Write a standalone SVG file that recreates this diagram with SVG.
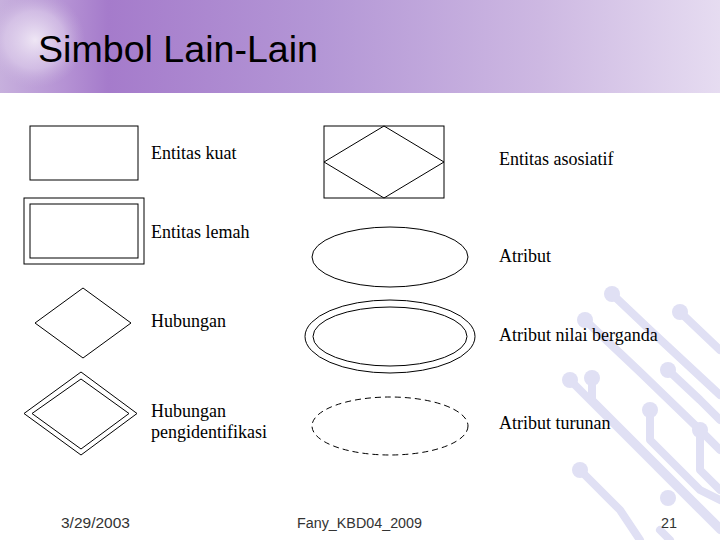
<svg xmlns="http://www.w3.org/2000/svg" width="720" height="540" viewBox="0 0 720 540">
<defs>
<linearGradient id="hdr" x1="0" y1="0" x2="1" y2="0">
<stop offset="0" stop-color="#c7b0dd"/>
<stop offset="0.09" stop-color="#b592d4"/>
<stop offset="0.15" stop-color="#a57bcb"/>
<stop offset="0.45" stop-color="#b497d6"/>
<stop offset="0.75" stop-color="#cdb8e2"/>
<stop offset="1" stop-color="#e6dcf1"/>
</linearGradient>
<radialGradient id="glow" cx="0.5" cy="0.5" r="0.5">
<stop offset="0" stop-color="#f4eef8" stop-opacity="0.9"/>
<stop offset="0.6" stop-color="#e2d4ee" stop-opacity="0.55"/>
<stop offset="1" stop-color="#c7b0dd" stop-opacity="0"/>
</radialGradient>
<style>
.s{fill:none;stroke:#000;stroke-width:1}
.lbl{font-family:"Liberation Serif","Times New Roman",serif;font-size:18px;fill:#000}
.ft{font-family:"Liberation Sans",Arial,sans-serif;font-size:14px;fill:#333}
.c{fill:none;stroke:#e0e0f4;stroke-width:8;stroke-linecap:round;stroke-linejoin:round}
.d{fill:#e0e0f4}
</style>
</defs>
<rect width="720" height="540" fill="#fff"/>
<g id="background-circuit">
<path class="c" d="M612 294 L650 330 L720 395"/>
<path class="c" d="M680 312 L720 350"/>
<path class="c" d="M585 320 L640 372 L700 430 L720 450"/>
<path class="c" d="M570 380 L600 410 L650 460 L700 510 L720 530"/>
<path class="c" d="M592 378 L592 400 L640 448 L690 498 L720 528"/>
<path class="c" d="M650 410 L650 440 L700 490 L720 500"/>
<path class="c" d="M700 430 L700 470 L720 490"/>
<path class="c" d="M668 370 L700 400 L720 420"/>
<path class="c" d="M580 470 L620 510 L640 540"/>
<path class="c" d="M660 530 L670 540"/>
<circle class="d" cx="612" cy="294" r="8"/>
<circle class="d" cx="680" cy="312" r="8"/>
<circle class="d" cx="585" cy="320" r="8"/>
<circle class="d" cx="570" cy="380" r="8"/>
<circle class="d" cx="592" cy="378" r="8"/>
<circle class="d" cx="650" cy="410" r="8"/>
<circle class="d" cx="700" cy="430" r="8"/>
<circle class="d" cx="668" cy="370" r="8"/>
<circle class="d" cx="580" cy="470" r="8"/>
<circle class="d" cx="668" cy="498" r="8"/>
</g>
<g id="header">
<rect width="720" height="93" fill="url(#hdr)"/>
<ellipse cx="35" cy="40" rx="50" ry="48" fill="url(#glow)"/>
<text x="38" y="62" font-family="'Liberation Sans',Arial,sans-serif" font-size="37" fill="#000" textLength="280" lengthAdjust="spacingAndGlyphs">Simbol Lain-Lain</text>
</g>
<g id="entitas-kuat">
<rect class="s" x="30" y="126" width="108" height="54"/>
<text class="lbl" x="151" y="159">Entitas kuat</text>
</g>
<g id="entitas-lemah">
<rect class="s" x="24" y="198" width="120" height="66"/>
<rect class="s" x="30" y="204" width="108" height="54"/>
<text class="lbl" x="151" y="238">Entitas lemah</text>
</g>
<g id="hubungan">
<polygon class="s" points="83,288 131,323 83,358 35,323"/>
<text class="lbl" x="151" y="327">Hubungan</text>
</g>
<g id="hubungan-pengidentifikasi">
<polygon class="s" points="81,372 137,413.5 81,455 24,413.5"/>
<polygon class="s" points="81,379 129,413.5 81,449 32,413.5"/>
<text class="lbl" x="151" y="417">Hubungan</text>
<text class="lbl" x="151" y="438">pengidentifikasi</text>
</g>
<g id="entitas-asosiatif">
<rect class="s" x="324" y="126" width="120" height="72"/>
<polygon class="s" points="384,126 444,162 384,198 324,162"/>
<text class="lbl" x="499" y="165">Entitas asosiatif</text>
</g>
<g id="atribut">
<ellipse class="s" cx="390" cy="257" rx="78" ry="30"/>
<text class="lbl" x="499" y="262">Atribut</text>
</g>
<g id="atribut-nilai-berganda">
<ellipse class="s" cx="390" cy="336.5" rx="85" ry="36.5"/>
<ellipse class="s" cx="390" cy="336.5" rx="77" ry="29.5"/>
<text class="lbl" x="499" y="341">Atribut nilai berganda</text>
</g>
<g id="atribut-turunan">
<ellipse class="s" cx="390" cy="426" rx="78" ry="29" stroke-dasharray="6 4"/>
<text class="lbl" x="499" y="429">Atribut turunan</text>
</g>
<g id="footer">
<text class="ft" x="61" y="528" textLength="69" lengthAdjust="spacingAndGlyphs">3/29/2003</text>
<text class="ft" x="297" y="528" textLength="125" lengthAdjust="spacingAndGlyphs">Fany_KBD04_2009</text>
<text class="ft" x="661" y="528" textLength="16" lengthAdjust="spacingAndGlyphs">21</text>
</g>
<g id="connectors"/>
</svg>
